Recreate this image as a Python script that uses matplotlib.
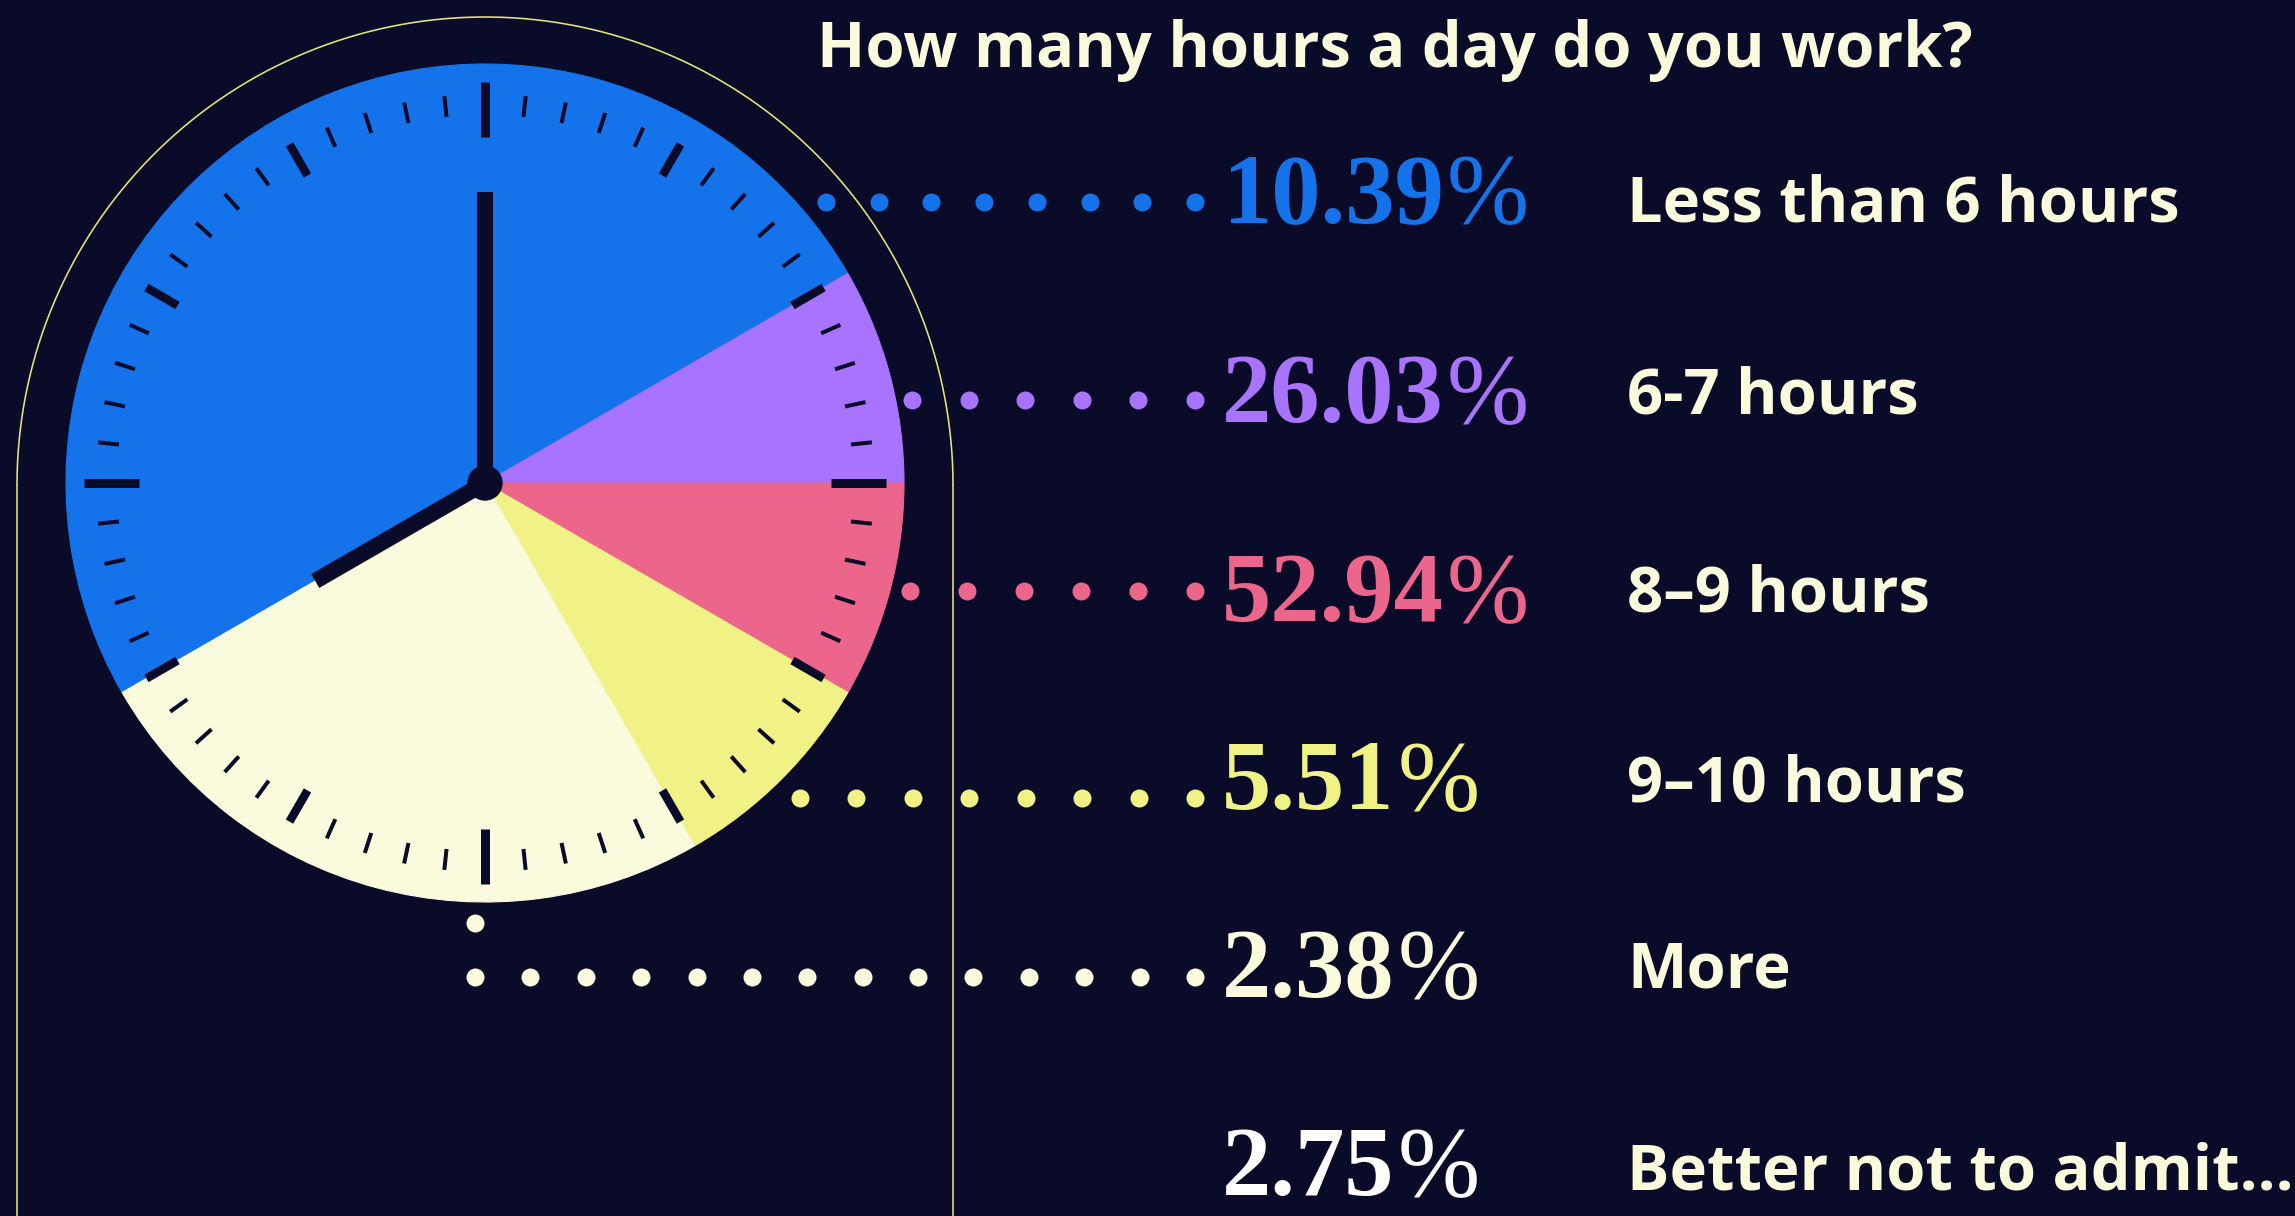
import matplotlib
matplotlib.use("Agg")
import matplotlib.pyplot as plt
import numpy as np
from matplotlib.collections import LineCollection

# ---------------- data ----------------
title = "How many hours a day do you work?"
categories = ["Less than 6 hours", "6-7 hours", "8\u20139 hours", "9\u201310 hours",
              "More", "Better not to admit..."]
percentages = [10.39, 26.03, 52.94, 5.51, 2.38, 2.75]
clock_hours = [6, 1, 1, 1, 3]          # span of each coloured sector on the clock face (hours)
colors = ["#1473eb", "#a873ff", "#ec668c", "#f0f286", "#fafadc", "#ffffff"]

# ---------------- layout / style ----------------
BG = "#0a0b28"
CREAM = "#fafadc"
ARCH = "#e4e47a"
W, H = 2295, 1216
cx, cy, R = 485, 483, 419            # clock face
arch_c, arch_r = (485, 485), 468     # outer arch
title_xy = (817, 67)
pct_x, label_x = 1222, 1627
pct_base = [222, 422, 621, 809, 997, 1195]
label_base = [221, 413, 611, 801, 988, 1190]
dot_y = [202, 400, 591, 798, 977]
dot_start = [826, 912, 910, 800, 475]
dot_count = [8, 6, 6, 8, 14]
dot_end = 1195
sans = ["Open Sans", "DejaVu Sans"]
serif = ["Liberation Serif", "DejaVu Serif"]
PX = 72 / 100.0   # points per pixel at dpi 100
SANS_SIZE = 45.5
PCT_SIZE = 71

fig = plt.figure(figsize=(W / 100, H / 100), dpi=100, facecolor=BG)
ax = fig.add_axes([0, 0, 1, 1])
ax.set_facecolor(BG)

# clock sectors (y axis inverted later -> counterclock in data = clockwise on screen)
wedges, _ = ax.pie(clock_hours, colors=colors[:5], startangle=150, counterclock=True,
                   center=(cx, cy), radius=R)
for w in wedges:
    w.set_edgecolor(w.get_facecolor())
    w.set_linewidth(0.8)

ax.set_xlim(0, W)
ax.set_ylim(H, 0)
ax.set_aspect("auto")
ax.axis("off")

# outer arch
th = np.linspace(0, np.pi, 400)
ax.plot(arch_c[0] + arch_r * np.cos(th), arch_c[1] - arch_r * np.sin(th),
        color=ARCH, lw=1.6 * PX, solid_capstyle="butt")
for xv in (arch_c[0] - arch_r, arch_c[0] + arch_r):
    ax.plot([xv, xv], [arch_c[1], H], color=ARCH, lw=1.6 * PX)

# tick marks
segs_q, segs_h, segs_m = [], [], []
for i in range(60):
    a = np.deg2rad(90 - 6 * i)
    ca, sa = np.cos(a), np.sin(a)
    if i % 15 == 0:
        r0, r1, lst = 346, 401, segs_q
    elif i % 5 == 0:
        r0, r1, lst = 355, 391, segs_h
    else:
        r0, r1, lst = 368, 389, segs_m
    lst.append([(cx + r0 * ca, cy - r0 * sa), (cx + r1 * ca, cy - r1 * sa)])
for segs, w in ((segs_q, 9), (segs_h, 8.5), (segs_m, 4)):
    ax.add_collection(LineCollection(segs, colors=BG, linewidths=w * PX, capstyle="butt",
                                     zorder=3))

# hands
for ang, length in ((90, 291), (210, 196)):
    a = np.deg2rad(ang)
    ax.plot([cx, cx + length * np.cos(a)], [cy, cy - length * np.sin(a)],
            color=BG, lw=16 * PX, solid_capstyle="butt", zorder=5)
ax.add_patch(plt.Circle((cx, cy), 17, color=BG, zorder=6))

# dotted leaders
dot_s = (18 * PX) ** 2
for k in range(5):
    xs = np.linspace(dot_start[k], dot_end, dot_count[k])
    ax.scatter(xs, np.full_like(xs, dot_y[k]), s=dot_s, color=colors[k], linewidths=0, zorder=4)
# connector dot of the "More" leader
ax.scatter([dot_start[4]], [923], s=dot_s, color=colors[4], linewidths=0, zorder=4)

# title
ax.text(title_xy[0], title_xy[1], title, family=sans, fontweight="bold", fontsize=SANS_SIZE,
        color=CREAM, ha="left", va="baseline")

# percentages and labels
for k, (cat, v) in enumerate(zip(categories, percentages)):
    t = ax.text(pct_x, pct_base[k], f"{v:.2f}", family=serif, fontweight="bold",
                fontsize=PCT_SIZE, color=colors[k], ha="left", va="baseline")
    ax.annotate("%", xy=(1, 0), xycoords=t, xytext=(3, 0), textcoords="offset pixels",
                family=serif, fontweight="normal", fontsize=PCT_SIZE, color=colors[k],
                ha="left", va="bottom")
    ax.text(label_x, label_base[k], cat, family=sans, fontweight="bold", fontsize=SANS_SIZE,
            color=CREAM, ha="left", va="baseline")

fig.savefig("out.png", dpi=100, facecolor=BG)
